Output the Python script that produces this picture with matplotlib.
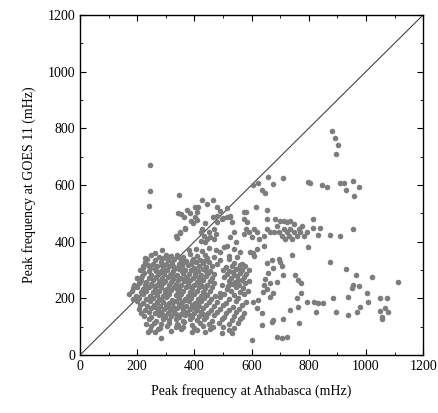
import numpy as np
import matplotlib.pyplot as plt
from matplotlib.ticker import MultipleLocator

plt.rcParams['font.family'] = ['Liberation Serif', 'DejaVu Serif']

# peak frequencies (Athabasca mHz, GOES 11 mHz)
# main cloud of events
dense_pts = [
    (380, 370), (405, 376), (428, 368), (452, 378), (475, 371),
    (250, 352), (275, 346), (300, 355), (318, 348), (340, 353), (362, 345), (385, 356), (410, 349), (438, 354), (470, 347),
    (235, 340), (262, 335), (290, 342), (308, 334), (330, 339), (350, 343), (372, 333), (395, 340), (420, 336), (445, 342), (490, 335), (520, 340),
    (228, 327), (255, 321), (282, 328), (300, 323), (322, 329), (345, 322), (365, 327), (388, 320), (405, 328), (430, 324), (452, 329), (478, 321), (540, 326), (565, 322),
    (220, 314), (245, 309), (270, 316), (292, 310), (312, 315), (335, 308), (358, 313), (378, 317), (398, 309), (418, 314), (440, 310), (462, 316), (510, 311), (530, 315), (555, 309), (578, 313),
    (210, 302), (240, 297), (262, 303), (285, 298), (305, 301), (325, 296), (348, 304), (368, 299), (390, 302), (412, 297), (432, 303), (455, 298), (500, 302), (522, 297), (545, 303), (568, 299), (590, 301),
    (225, 289), (250, 284), (272, 290), (295, 285), (318, 288), (338, 283), (360, 291), (380, 286), (402, 289), (425, 284), (448, 290), (470, 285), (515, 288), (538, 284), (560, 291), (582, 286),
    (198, 272), (218, 278), (240, 273), (265, 277), (288, 271), (308, 276), (330, 279), (352, 273), (372, 277), (395, 271), (418, 276), (440, 279), (462, 273), (505, 277), (528, 272), (550, 278), (572, 274),
    (212, 264), (232, 259), (255, 265), (278, 260), (298, 263), (320, 258), (342, 266), (365, 261), (385, 264), (408, 259), (430, 265), (455, 260), (520, 263), (542, 259), (565, 266), (590, 261),
    (190, 248), (205, 253), (228, 247), (248, 252), (270, 249), (292, 254), (312, 246), (335, 251), (355, 248), (378, 253), (400, 247), (420, 252), (445, 249), (470, 254), (498, 247), (532, 251), (555, 248), (578, 253),
    (200, 240), (220, 235), (240, 241), (262, 236), (285, 239), (305, 234), (328, 242), (348, 237), (370, 240), (392, 235), (415, 241), (438, 236), (462, 239), (515, 235), (545, 240), (570, 236),
    (182, 227), (212, 222), (232, 228), (255, 223), (278, 226), (298, 221), (320, 229), (342, 224), (362, 227), (385, 222), (408, 228), (430, 223), (455, 226), (490, 221), (528, 227), (560, 223), (588, 226),
    (170, 214), (195, 209), (222, 215), (245, 210), (268, 213), (290, 208), (312, 216), (335, 211), (355, 214), (378, 209), (400, 215), (422, 210), (445, 213), (472, 208), (505, 215), (540, 211), (575, 214),
    (185, 198), (208, 203), (232, 197), (255, 202), (278, 199), (300, 204), (322, 196), (345, 201), (368, 198), (390, 203), (412, 197), (435, 202), (460, 199), (488, 204), (520, 197), (552, 202),
    (200, 190), (222, 185), (245, 191), (268, 186), (290, 189), (312, 184), (335, 192), (358, 187), (380, 190), (402, 185), (425, 191), (450, 186), (478, 189), (510, 184), (545, 191), (580, 186),
    (210, 177), (235, 172), (258, 178), (280, 173), (302, 176), (325, 171), (348, 179), (370, 174), (392, 177), (415, 172), (440, 178), (470, 173), (500, 176), (535, 171), (565, 177),
    (205, 164), (228, 159), (250, 165), (272, 160), (295, 163), (318, 158), (340, 166), (362, 161), (385, 164), (410, 159), (432, 165), (458, 160), (490, 163), (522, 158), (555, 164),
    (215, 148), (240, 153), (262, 147), (285, 152), (308, 149), (330, 154), (352, 146), (375, 151), (398, 148), (422, 153), (448, 147), (478, 152), (512, 149), (545, 154), (575, 148),
    (225, 139), (250, 134), (275, 140), (298, 135), (320, 138), (345, 133), (368, 141), (392, 136), (415, 139), (440, 134), (470, 140), (505, 135), (540, 138), (568, 133),
    (240, 127), (265, 122), (290, 128), (312, 123), (335, 126), (360, 121), (385, 129), (410, 124), (435, 127), (462, 122), (495, 128), (530, 123), (560, 126),
    (232, 110), (258, 115), (285, 109), (310, 114), (338, 111), (365, 116), (392, 108), (420, 113), (450, 110), (485, 115), (520, 109), (552, 114),
    (250, 102), (280, 97), (305, 103), (335, 98), (362, 101), (400, 96), (430, 103), (465, 98), (500, 101), (540, 97),
    (245, 88), (272, 92), (318, 87), (355, 91), (410, 89), (455, 93), (520, 88),
    (227, 342), (262, 360), (287, 371), (304, 346), (220, 307), (238, 318), (199, 272), (210, 258), (185, 236),
    # extra events filling the core of the cloud
    (286, 318), (324, 313), (352, 330), (392, 331), (434, 333), (267, 296), (315, 281), (358, 296), (401, 280), (442, 297),
    (283, 257), (326, 268), (374, 268), (417, 266), (258, 243), (297, 231), (338, 232), (381, 245), (426, 243), (266, 218),
    (305, 210), (346, 219), (389, 217), (434, 218), (282, 193), (324, 187), (366, 193), (413, 190), (262, 170), (313, 166),
    (357, 169), (404, 168), (290, 143), (337, 145), (384, 142), (430, 146), (535, 292), (552, 264), (518, 245), (560, 317),
]

# scattered events outside the main cloud
spread_pts = [
    (245, 670), (245, 578), (243, 525), (346, 565),
    (882, 791), (892, 766), (903, 741), (896, 710),
    (605, 600), (623, 607), (637, 582), (647, 572), (658, 628), (675, 604), (710, 625), (798, 611), (805, 607),
    (847, 600), (864, 593), (910, 607), (924, 607), (931, 582), (955, 614), (976, 593), (959, 561),
    (616, 522), (654, 512), (574, 505), (413, 522), (427, 547), (465, 547), (479, 522), (374, 512), (402, 522),
    (343, 501), (385, 501), (409, 505), (514, 519), (525, 487), (500, 484),
    (491, 509), (526, 492), (515, 486), (497, 480), (480, 492), (532, 468), (480, 468), (468, 445),
    (445, 533), (352, 498), (364, 486), (404, 486), (387, 474), (367, 445), (350, 431), (437, 466), (465, 487),
    (339, 413), (395, 466), (409, 476), (335, 420), (350, 434), (367, 448),
    (422, 433), (433, 422), (445, 410), (427, 445), (451, 433), (439, 398), (456, 416), (422, 404), (468, 410), (474, 427),
    (538, 433), (526, 416), (544, 398), (515, 386), (538, 375), (561, 363), (520, 351), (549, 345), (491, 363), (503, 380),
    (579, 504), (573, 480), (585, 468), (579, 445), (591, 433), (573, 427), (608, 445), (619, 433), (602, 416), (625, 410),
    (643, 422), (654, 445), (654, 480), (643, 386), (619, 375), (596, 363), (608, 351),
    (683, 480), (701, 474), (689, 457), (677, 433), (666, 433), (695, 433), (712, 445), (724, 433), (706, 422), (730, 422),
    (735, 445), (747, 463), (747, 433), (758, 422), (765, 445), (770, 433), (776, 457), (782, 422), (794, 433), (718, 410),
    (741, 410), (712, 474), (724, 468), (735, 474), (815, 480), (815, 448), (840, 448), (833, 424), (875, 424), (910, 420), (955, 445),
    (798, 381), (742, 353), (875, 328), (931, 304), (966, 282), (1022, 275), (1113, 258),
    (752, 282), (763, 265), (773, 254), (773, 219), (759, 201), (763, 169), (735, 159), (766, 113), (794, 187), (819, 187),
    (833, 184), (850, 184), (885, 201), (826, 152), (896, 152), (938, 141), (969, 152), (980, 169), (938, 205), (952, 236),
    (955, 247), (976, 244), (1004, 219), (1008, 187),
    (1050, 201), (1074, 201), (1050, 155), (1067, 166), (1078, 152), (1057, 134), (1057, 127),
    (710, 282), (700, 328), (675, 307), (658, 289), (689, 258), (665, 254), (675, 219), (640, 223), (623, 194), (605, 187),
    (619, 166), (637, 148), (675, 123), (710, 127), (605, 360), (654, 325), (672, 335), (695, 340), (706, 316), (648, 269),
    (654, 234), (643, 246), (666, 205),
    (602, 53), (689, 64), (707, 60), (724, 64), (637, 106), (672, 117),
    (283, 60), (392, 81), (437, 81), (497, 78), (532, 78), (238, 81), (262, 81), (343, 106),
]

athabasca = np.array([p[0] for p in dense_pts + spread_pts])
goes11 = np.array([p[1] for p in dense_pts + spread_pts])

fig = plt.figure(figsize=(4.39, 4.13), dpi=100)
ax = fig.add_axes([0.182, 0.140, 0.782, 0.824])

ax.scatter(athabasca, goes11, s=16, color='#7d7d7d', linewidths=0, zorder=2)
ax.plot([0, 1200], [0, 1200], color='#444444', lw=0.8, zorder=1)

ax.set_xlim(0, 1200)
ax.set_ylim(0, 1200)
ax.xaxis.set_major_locator(MultipleLocator(200))
ax.yaxis.set_major_locator(MultipleLocator(200))
ax.xaxis.set_minor_locator(MultipleLocator(100))
ax.yaxis.set_minor_locator(MultipleLocator(100))
ax.tick_params(which='both', direction='in', top=True, right=True, labelsize=10)
ax.tick_params(which='major', length=4)
ax.tick_params(which='minor', length=2)
for sp in ax.spines.values():
    sp.set_linewidth(1.0)

ax.set_xlabel('Peak frequency at Athabasca (mHz)', fontsize=10, labelpad=8)
ax.set_ylabel('Peak frequency at GOES 11 (mHz)', fontsize=10, labelpad=8)

fig.savefig('out.png', dpi=100)
